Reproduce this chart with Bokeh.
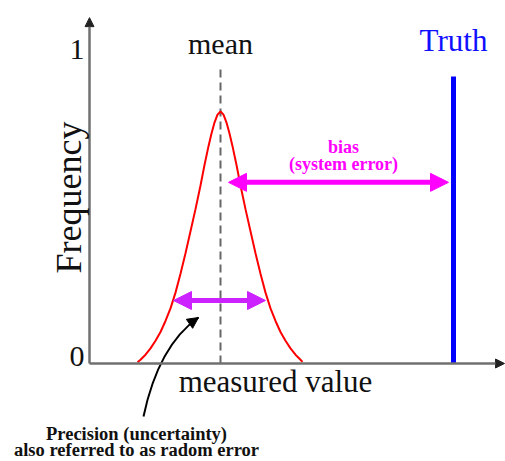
from bokeh.plotting import figure
from bokeh.models import Range1d, Arrow, NormalHead, Label
from bokeh.embed import file_html
from bokeh.resources import INLINE
import math

# ---- data ----
curve_x = [4.8, 5.1, 5.6, 6.1, 6.6, 7.1, 7.6, 8.1, 8.6, 9.1, 9.6, 10.1, 10.6, 11.1, 11.5, 11.9, 12.2, 12.5, 12.8,
           13.1,
           13.4, 13.7, 14.0, 14.3, 14.7, 15.1, 15.6, 16.1, 16.6, 17.1, 17.6, 18.1, 18.6, 19.1, 19.6, 20.1, 20.6, 21.1, 21.3]
curve_freq = [0.004, 0.012, 0.028, 0.048, 0.072, 0.10, 0.135, 0.175, 0.225, 0.285, 0.35, 0.42, 0.49, 0.565, 0.63, 0.69, 0.73, 0.765, 0.79,
              0.80,
              0.79, 0.765, 0.73, 0.69, 0.63, 0.565, 0.49, 0.42, 0.35, 0.285, 0.225, 0.175, 0.135, 0.10, 0.072, 0.048, 0.028, 0.012, 0.005]
mean_value = 13.1
truth_value = 36.4
mean_line_top = 0.937
truth_line_top = 0.911
bias_freq = 0.575
bias_from = 13.9
bias_to = 35.9
precision_freq = 0.2
precision_from = 8.4
precision_to = 17.6
y_ticks = [0, 1]
y_tick_labels = ["0", "1"]
x_axis_end = 41.5
y_axis_end = 1.098

# scale helpers (pixels per data unit)
PX = 10.0
PY = 315.0

p = figure(width=505, height=461, x_range=Range1d(-8.9, 41.6), y_range=Range1d(-0.31111, 1.15238),
           output_backend="svg", toolbar_location=None, min_border=0,
           x_axis_type=None, y_axis_type=None)
p.grid.visible = False
p.outline_line_color = None

SERIF = "Liberation Serif, Times New Roman, DejaVu Serif, serif"
AXIS_COLOR = "#707070"
INK = "#111111"

# axes with arrow heads
p.add_layout(Arrow(end=NormalHead(size=9, fill_color="#222222", line_color="#222222"),
                   x_start=0, y_start=0, x_end=0, y_end=y_axis_end,
                   line_color=AXIS_COLOR, line_width=2.5))
p.add_layout(Arrow(end=NormalHead(size=9, fill_color="#222222", line_color="#222222"),
                   x_start=0, y_start=0, x_end=x_axis_end, y_end=0,
                   line_color=AXIS_COLOR, line_width=2.5))

# tick labels
tick_shift_px = [-7, 1]
for t, lab, sh in zip(y_ticks, y_tick_labels, tick_shift_px):
    p.add_layout(Label(x=-5 / PX, y=t - sh / PY, text=lab, text_font=SERIF, text_font_size="30px",
                       text_align="right", text_baseline="middle", text_color=INK))

# axis titles
p.add_layout(Label(x=-21 / PX, y=0.527, text="Frequency", angle=math.pi / 2, text_font=SERIF,
                   text_font_size="36px", text_align="center", text_baseline="middle",
                   text_color=INK))
p.add_layout(Label(x=18.6, y=-17.5 / PY, text="measured value", text_font=SERIF, text_font_size="31px",
                   text_align="center", text_baseline="middle", text_color=INK))

# mean dashed line
p.segment(x0=[mean_value], y0=[0], x1=[mean_value], y1=[mean_line_top],
          line_color="#666666", line_width=2, line_dash="8 5")
p.add_layout(Label(x=mean_value, y=mean_line_top + 25 / PY, text="mean", text_font=SERIF,
                   text_font_size="30px", text_align="center", text_baseline="middle",
                   text_color=INK))

# distribution curve
p.line(curve_x, curve_freq, line_color="#ff0000", line_width=2)

# truth line
p.segment(x0=[truth_value], y0=[0], x1=[truth_value], y1=[truth_line_top],
          line_color="#0000ff", line_width=5)
p.add_layout(Label(x=truth_value, y=truth_line_top + 36.5 / PY, text="Truth", text_font=SERIF,
                   text_font_size="31px", text_align="center", text_baseline="middle",
                   text_color="#1010ff"))

# bias arrow
MAG = "#ff00ff"
p.add_layout(Arrow(start=NormalHead(size=18, fill_color=MAG, line_color=MAG),
                   end=NormalHead(size=18, fill_color=MAG, line_color=MAG),
                   x_start=bias_from, y_start=bias_freq, x_end=bias_to, y_end=bias_freq,
                   line_color=MAG, line_width=5))
bias_mid = (bias_from + bias_to) / 2 + 0.5
p.add_layout(Label(x=bias_mid, y=bias_freq + 35 / PY, text="bias", text_font=SERIF,
                   text_font_size="18px", text_font_style="bold", text_align="center",
                   text_baseline="middle", text_color=MAG))
p.add_layout(Label(x=bias_mid, y=bias_freq + 18 / PY, text="(system error)", text_font=SERIF,
                   text_font_size="18px", text_font_style="bold", text_align="center",
                   text_baseline="middle", text_color=MAG))

# precision arrow
VIO = "#cc22ff"
p.add_layout(Arrow(start=NormalHead(size=18, fill_color=VIO, line_color=VIO),
                   end=NormalHead(size=18, fill_color=VIO, line_color=VIO),
                   x_start=precision_from, y_start=precision_freq, x_end=precision_to, y_end=precision_freq,
                   line_color=VIO, line_width=5))

# pointer arrow to the precision arrow
tip_x, tip_y = mean_value - 2.2, precision_freq - 17 / PY
base_x, base_y = mean_value - 7.7, precision_freq - 116 / PY
ctrl_x, ctrl_y = mean_value - 6.2, precision_freq - 45 / PY
p.quadratic(x0=[base_x], y0=[base_y], x1=[tip_x], y1=[tip_y], cx=[ctrl_x], cy=[ctrl_y],
            line_color="black", line_width=2)
p.add_layout(Arrow(end=NormalHead(size=11, fill_color="black", line_color="black"),
                   x_start=tip_x - 0.2 * (tip_x - ctrl_x), y_start=tip_y - 0.2 * (tip_y - ctrl_y),
                   x_end=tip_x, y_end=tip_y, line_color="black", line_width=2))

p.add_layout(Label(x=4.7, y=-70 / PY, text="Precision (uncertainty)", text_font=SERIF,
                   text_font_size="18.5px", text_font_style="bold", text_align="center",
                   text_baseline="middle", text_color=INK))
p.add_layout(Label(x=4.7, y=-86 / PY, text="also referred to as radom error", text_font=SERIF,
                   text_font_size="18.5px", text_font_style="bold", text_align="center",
                   text_baseline="middle", text_color=INK))

open("out.html", "w").write(file_html(p, INLINE))
